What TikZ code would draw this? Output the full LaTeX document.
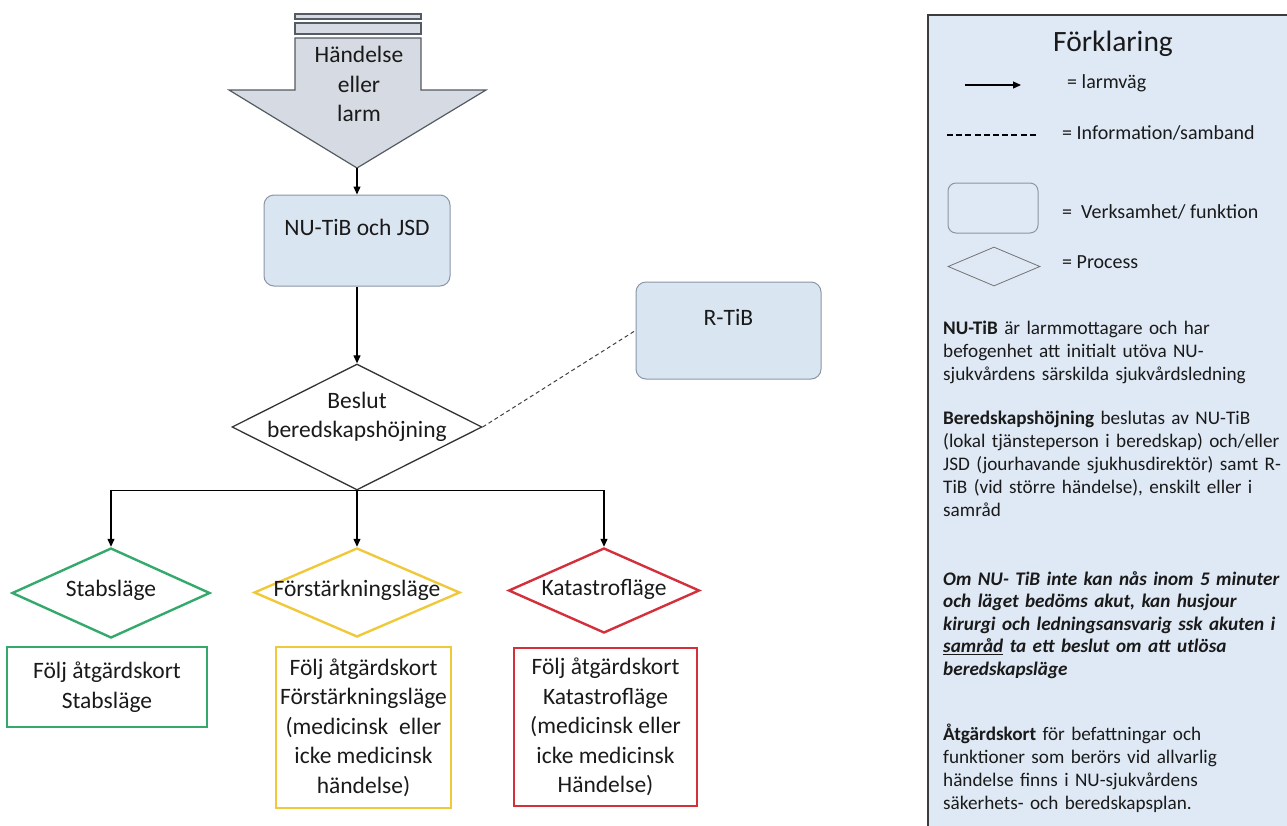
\documentclass[tikz,border=0pt]{standalone}
\usepackage{fontspec}
\setmainfont{Carlito}
\usetikzlibrary{shapes.geometric,arrows.meta}

\definecolor{txt}{HTML}{1A1A1A}
\definecolor{evfill}{HTML}{D6DBE3}
\definecolor{evline}{HTML}{555B63}
\definecolor{boxfill}{HTML}{DAE5F2}
\definecolor{boxline}{HTML}{8A96A6}
\definecolor{legfill}{HTML}{DFE9F5}
\definecolor{legline}{HTML}{3C3C3C}
\definecolor{stabgreen}{HTML}{34A96C}
\definecolor{forstyellow}{HTML}{F0C93A}
\definecolor{katred}{HTML}{D3303C}

\tikzset{
  every node/.style={font=\fontsize{23.5}{29.5}\selectfont, text=txt},
  conn/.style={draw=black, line width=1.2pt, -{Triangle[length=8pt,width=7pt]}},
  info/.style={draw=black!75, line width=1pt, dash pattern=on 4pt off 3pt},
  unit/.style={draw=boxline, fill=boxfill, line width=1pt, rounded corners=10pt},
  decision/.style={diamond, draw, inner sep=0pt, line width=#1},
  decision/.default=1.3pt,
  card/.style={draw=#1, line width=1.4pt, align=center, inner sep=0pt},
  legtext/.style={font=\fontsize{20}{23.3}\selectfont, anchor=west, inner sep=0pt},
  legpara/.style={font=\fontsize{19.2}{23.2}\selectfont, anchor=base west, inner sep=0pt,
                  text width=360pt, align=left}
}

\begin{document}
\begin{tikzpicture}[x=1pt,y=-1pt]
\useasboundingbox (0,0) rectangle (1287,825);

% incoming event arrow with its two header bars
\draw[evline, fill=evfill, line width=1.2pt] (295,14) rectangle (421,19);
\draw[evline, fill=evfill, line width=1.2pt] (295,23) rectangle (421,34);
\draw[evline, fill=evfill, line width=1.2pt]
  (295,38) -- (421,38) -- (421,90) -- (486,90) -- (357,168)
  -- (229,90) -- (295,90) -- cycle;
\node[align=center] (ev) at (359,84) {Händelse\\eller\\larm};
\coordinate (evtip) at (357,168);

% units
\node[unit, minimum width=186pt, minimum height=91pt,
      label={[yshift=13pt]center:NU-TiB och JSD}] (nutib) at (357,240.5) {};
\node[unit, minimum width=185pt, minimum height=97pt,
      label={[yshift=13.5pt]center:R-TiB}] (rtib) at (728.5,330.5) {};

% decision
\node[decision, draw=black!80, minimum width=250pt, minimum height=126pt,
      label={[yshift=10pt, align=center]center:Beslut\\beredskapshöjning}] (beslut) at (357,427) {};

% readiness levels
\node[decision=2.4pt, draw=stabgreen, minimum width=198pt, minimum height=90pt,
      label={[yshift=3pt]center:Stabsläge}] (stab) at (111,593) {};
\node[decision=2.4pt, draw=forstyellow, minimum width=206pt, minimum height=89pt,
      label={[yshift=2pt]center:Förstärkningsläge}] (forst) at (357,592.5) {};
\node[decision=2.4pt, draw=katred, minimum width=191pt, minimum height=85pt,
      label={[yshift=1pt]center:Katastrofläge}] (kat) at (604,590.5) {};

% action cards
\node[card=stabgreen, minimum width=200pt, minimum height=80pt] (stabcard) at (107,687)
  {Följ åtgärdskort\\Stabsläge};
\node[card=forstyellow, minimum width=175pt, minimum height=161pt] (forstcard) at (363.5,727.5)
  {Följ åtgärdskort\\Förstärkningsläge\\(medicinsk\ \ eller\\icke medicinsk\\händelse)};
\node[card=katred, minimum width=183pt, minimum height=158pt] (katcard) at (605.5,727)
  {Följ åtgärdskort\\Katastrofläge\\(medicinsk eller\\icke medicinsk\\Händelse)};

% connectors
\draw[conn] (evtip) -- (nutib.north);
\draw[conn] (nutib.south) -- (beslut.north);
\draw[info] (beslut.east) -- (rtib.west);
\draw[conn] (beslut.south) -| (stab.north);
\draw[conn] (beslut.south) -- (forst.north);
\draw[conn] (beslut.south) -| (kat.north);

% legend panel
\draw[legline, fill=legfill, line width=1.3pt] (928,15) rectangle (1320,860);
\node[font=\fontsize{29.5}{34}\selectfont] (legtitle) at (1113,44) {Förklaring};

\coordinate (la1) at (965,85);
\coordinate (la2) at (1021,85);
\draw[conn] (la1) -- (la2);
\node[legtext] (lt1) at (1067,83) {= larmväg};

\coordinate (ld1) at (947,135);
\coordinate (ld2) at (1038,135);
\draw[draw=black, line width=1.2pt, dash pattern=on 6pt off 3.2pt] (ld1) -- (ld2);
\node[legtext] (lt2) at (1062,133) {= Information/samband};

\node[draw=boxline, fill=legfill, line width=1pt, rounded corners=8pt,
      minimum width=90pt, minimum height=50pt, inner sep=0pt] (legunit) at (993,208) {};
\node[legtext] (lt3) at (1062,212) {=\ \ Verksamhet/ funktion};

\node[diamond, draw=black!55, line width=0.8pt, inner sep=0pt,
      minimum width=92pt, minimum height=39pt] (legproc) at (994,266.5) {};
\node[legtext] (lt4) at (1062,262) {= Process};

% explanatory paragraphs
\node[legpara] (p1) at (943,334)
  {\textbf{NU-TiB} är larmmottagare och har\\
   befogenhet att initialt utöva NU-\\
   sjukvårdens särskilda sjukvårdsledning};
\node[legpara] (p2) at (943,424)
  {\textbf{Beredskapshöjning} beslutas av NU-TiB\\
   (lokal tjänsteperson i beredskap) och/eller\\
   JSD (jourhavande sjukhusdirektör) samt R-\\
   TiB (vid större händelse), enskilt eller i\\
   samråd};
\node[legpara, font=\fontsize{19.2}{22.6}\selectfont\bfseries\itshape] (p3) at (943,585)
  {Om NU- TiB inte kan nås inom 5 minuter\\
   och läget bedöms akut, kan husjour\\
   kirurgi och ledningsansvarig ssk akuten i\\
   \underline{samråd} ta ett beslut om att utlösa\\
   beredskapsläge};
\node[legpara] (p4) at (943,740)
  {\textbf{Åtgärdskort} för befattningar och\\
   funktioner som berörs vid allvarlig\\
   händelse finns i NU-sjukvårdens\\
   säkerhets- och beredskapsplan.};
\end{tikzpicture}
\end{document}
